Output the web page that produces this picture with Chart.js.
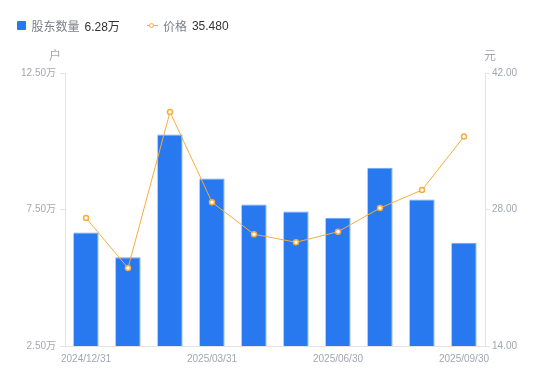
<!DOCTYPE html>
<html>
<head>
<meta charset="utf-8">
<script src="https://cdn.jsdelivr.net/npm/chart.js@4/dist/chart.umd.min.js"></script>
<style>
  html, body { margin: 0; padding: 0; background: #fff; }
  #wrap { position: relative; width: 550px; height: 381px; }
  #legend { position: absolute; left: 16.5px; top: 18px; height: 15px; font: 12px 'Liberation Sans', 'Noto Sans CJK SC', sans-serif; display: flex; align-items: center; white-space: nowrap; z-index: 2; }
  .item { display: flex; align-items: center; margin-right: 27px; }
  .sq { width: 9px; height: 9px; background: #2878f0; border-radius: 1px; margin-right: 6px; }
  .ln { position: relative; width: 11px; height: 9px; margin-right: 5px; }
  .ln:before { content: ''; position: absolute; left: 0; right: 0; top: 4px; height: 1px; background: #f7ad3a; }
  .ln:after { content: ''; position: absolute; left: 2.5px; top: 1.5px; width: 3px; height: 3px; border: 1.5px solid #f7ad3a; border-radius: 50%; background: #fff; }
  .nm { color: #7b7f8a; margin-right: 5px; }
  .vl { color: #333; }
  canvas { position: absolute; left: 0; top: 0; }
</style>
</head>
<body>
<div id="wrap">
  <div id="legend"></div>
  <canvas id="c" width="550" height="381"></canvas>
</div>
<script>
const categories = ['2024/12/31','2025/01/31','2025/02/28','2025/03/31','2025/04/30','2025/05/31','2025/06/30','2025/07/31','2025/08/31','2025/09/30'];
const holders = [6.66, 5.75, 10.25, 8.64, 7.68, 7.43, 7.20, 9.03, 7.87, 6.28]; // 万户
const prices = [27.13, 22.00, 38.00, 28.74, 25.46, 24.64, 25.72, 28.15, 30.00, 35.48];
const leftTicks = [2.5, 7.5, 12.5];
const rightTicks = [14, 28, 42];
const seriesNames = ['股东数量', '价格'];
const axisTitles = ['户', '元'];

const FONT = "'Liberation Sans', 'Noto Sans CJK SC', sans-serif";
const BLUE = '#2878f0';
const ORANGE = '#f7ad3a';
const TICK_COLOR = '#a3a6b0';
const AXIS_COLOR = '#e3e4e8';

document.getElementById('legend').innerHTML =
  '<div class="item"><span class="sq"></span><span class="nm">' + seriesNames[0] + '</span><span class="vl">' + holders[holders.length-1].toFixed(2) + '万</span></div>' +
  '<div class="item"><span class="ln"></span><span class="nm">' + seriesNames[1] + '</span><span class="vl">' + prices[prices.length-1].toFixed(3) + '</span></div>';

const axisTitlePlugin = {
  id: 'axisTitles',
  afterDraw(chart) {
    const ctx = chart.ctx;
    const a = chart.chartArea;
    ctx.save();
    ctx.font = '12px ' + FONT;
    ctx.fillStyle = TICK_COLOR;
    ctx.textAlign = 'center';
    ctx.textBaseline = 'middle';
    ctx.fillText(axisTitles[0], a.left - 10, a.top - 16);
    ctx.fillText(axisTitles[1], a.right + 5, a.top - 16);
    ctx.restore();
  }
};

new Chart(document.getElementById('c'), {
  data: {
    labels: categories,
    datasets: [
      {
        type: 'line', label: seriesNames[1], data: prices, yAxisID: 'y1', order: 0,
        borderColor: ORANGE, borderWidth: 1, backgroundColor: '#fff',
        pointRadius: 2.5, pointBorderWidth: 1.5, pointBackgroundColor: '#fff', pointBorderColor: ORANGE,
        tension: 0
      },
      {
        type: 'bar', label: seriesNames[0], data: holders, yAxisID: 'y', order: 1,
        backgroundColor: BLUE, borderColor: '#6ea3f5', borderWidth: {top: 1, left: 0, right: 1, bottom: 0},
        borderSkipped: 'bottom',
        categoryPercentage: 1, barPercentage: 0.6
      }
    ]
  },
  options: {
    responsive: false, animation: false, devicePixelRatio: 1,
    layout: { padding: { top: 73, left: 0, right: 0, bottom: 0 } },
    plugins: { legend: { display: false }, tooltip: { enabled: false } },
    scales: {
      x: {
        offset: true,
        grid: { display: false, drawTicks: false },
        border: { display: true, color: AXIS_COLOR },
        ticks: {
          autoSkip: false, maxRotation: 0, padding: 7, color: TICK_COLOR,
          font: { family: FONT, size: 10 },
          callback(v, i) { return i % 3 === 0 ? categories[i] : ''; }
        },
        afterFit(s) { s.height = 35; }
      },
      y: {
        position: 'left', min: leftTicks[0], max: leftTicks[leftTicks.length-1],
        afterBuildTicks(s) { s.ticks = leftTicks.map(v => ({ value: v })); },
        grid: { drawOnChartArea: false, drawTicks: true, tickLength: 5, color: AXIS_COLOR },
        border: { display: true, color: AXIS_COLOR },
        ticks: { padding: 4, color: TICK_COLOR, font: { family: FONT, size: 10 },
          callback(v) { return v.toFixed(2) + '万'; } },
        afterFit(s) { s.width = 65; }
      },
      y1: {
        position: 'right', min: rightTicks[0], max: rightTicks[rightTicks.length-1],
        afterBuildTicks(s) { s.ticks = rightTicks.map(v => ({ value: v })); },
        grid: { drawOnChartArea: false, drawTicks: true, tickLength: 5, color: AXIS_COLOR },
        border: { display: true, color: AXIS_COLOR },
        ticks: { padding: 2, color: TICK_COLOR, font: { family: FONT, size: 10 },
          callback(v) { return v.toFixed(2); } },
        afterFit(s) { s.width = 65; }
      }
    }
  },
  plugins: [axisTitlePlugin]
});
</script>
</body>
</html>
